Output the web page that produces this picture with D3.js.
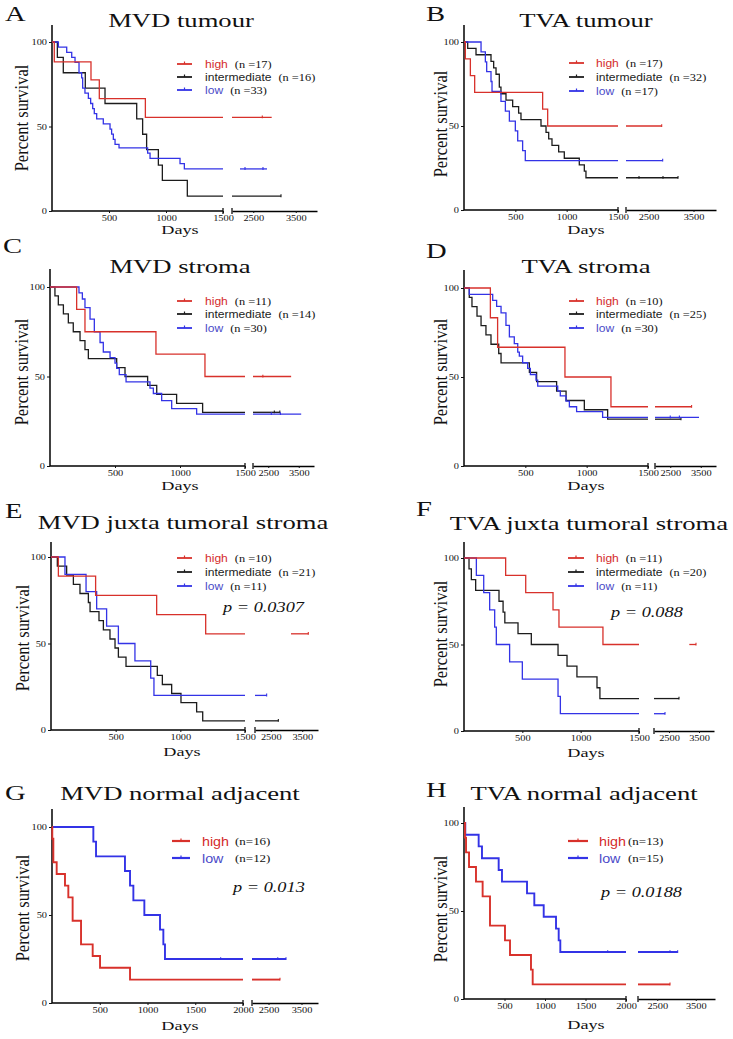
<!DOCTYPE html>
<html>
<head>
<meta charset="utf-8">
<script src="https://cdn.jsdelivr.net/npm/d3@7"></script>
<style>
  body { margin: 0; background: #fff; }
  svg { display: block; }
</style>
</head>
<body>
<div id="chart"></div>
<script>
// ---- survival data: [day, percent surviving after the drop] ----
// A  MVD tumour
const mvdTumourHigh = [[20, 88.2], [342, 77.6], [415, 66.5], [819, 55.4]];
const mvdTumourInter = [[47, 90.9], [99, 81.8], [292, 72.7], [465, 63.6], [743, 54.5], [795, 45.4], [830, 36.3], [933, 27.2], [968, 18.1], [1187, 8.8]];
const mvdTumourLow = [[56, 97], [129, 93.9], [173, 90.9], [202, 87.9], [237, 81.8], [260, 78.8], [269, 72.7], [289, 69.7], [319, 66.7], [339, 63.6], [357, 60.6], [371, 57.6], [392, 54.5], [450, 51.5], [509, 48.5], [523, 45.5], [538, 42.4], [553, 39.4], [588, 37.3], [839, 34.2], [860, 31.1], [1123, 28], [1161, 24.9]];
// B  TVA tumour
const tvaTumourHigh = [[13, 90], [62, 80], [104, 70], [766, 60], [815, 50]];
const tvaTumourInter = [[36, 96.2], [117, 92.4], [263, 88.5], [289, 84.6], [312, 80.8], [344, 73.1], [360, 69.2], [409, 65.4], [474, 61.5], [532, 57.7], [555, 53.8], [750, 50], [799, 46.2], [825, 42.3], [857, 38.5], [922, 34.6], [977, 30.8], [1123, 26.9], [1172, 23.1], [1188, 19.2]];
const tvaTumourLow = [[166, 94.1], [208, 88.2], [221, 82.4], [263, 76.5], [273, 70.6], [360, 64.7], [403, 58.8], [442, 52.9], [500, 47.1], [523, 41.2], [571, 35.3], [597, 29.4]];
// C  MVD stroma
const mvdStromaHigh = [[205, 87.5], [269, 75], [815, 62.5], [1192, 50]];
const mvdStromaInter = [[38, 95], [64, 90], [103, 85], [141, 80], [179, 75], [231, 70], [269, 65], [295, 60], [513, 55], [577, 50], [751, 45], [821, 40], [974, 35], [1174, 30]];
const mvdStromaLow = [[223, 96.7], [249, 93.3], [269, 88.5], [308, 82], [341, 75], [385, 69], [410, 63.7], [462, 60.6], [500, 57.5], [513, 54.5], [533, 51], [585, 47], [769, 43.5], [795, 40.5], [859, 36.5], [936, 32], [1128, 29]];
// D  TVA stroma
const tvaStromaHigh = [[215, 83.3], [274, 66.7], [823, 50], [1198, 33.3]];
const tvaStromaInter = [[43, 94.7], [65, 89.5], [106, 84.2], [139, 78.9], [179, 73.7], [220, 68.4], [283, 63.2], [302, 57.9], [533, 52.6], [592, 47.4], [755, 42.1], [832, 36.8], [981, 31.6], [1171, 26.3]];
const tvaStromaLow = [[43, 96.4], [234, 93], [266, 89.7], [302, 86], [342, 79], [370, 72.5], [410, 68.8], [438, 64], [451, 61.7], [478, 58], [519, 54.8], [541, 51.4], [587, 48.2], [601, 44.9], [764, 42.2], [785, 39.4], [832, 36.4], [859, 33.3], [918, 30.5], [1130, 27.3]];
// E  MVD juxta tumoral stroma
const mvdJuxtaHigh = [[57, 88.9], [345, 77.8], [817, 66.7], [1196, 55.6]];
const mvdJuxtaInter = [[49, 94.7], [121, 89.5], [173, 84.2], [224, 78.9], [289, 73.7], [302, 68.4], [371, 63.2], [405, 57.9], [456, 52.6], [495, 47.4], [521, 42.1], [580, 36.8], [822, 31.6], [861, 26.3], [933, 21.1], [1005, 15.8], [1126, 10.5], [1173, 5.3]];
const mvdJuxtaLow = [[108, 90], [271, 80], [353, 70], [430, 60], [521, 50], [649, 40], [771, 30], [796, 20]];
// F  TVA juxta tumoral stroma
const tvaJuxtaHigh = [[357, 90], [529, 80], [763, 70], [814, 60], [1191, 50]];
const tvaJuxtaInter = [[43, 93.75], [63, 87.5], [100, 81.25], [300, 75], [335, 68.75], [350, 62.5], [463, 56.25], [577, 50], [806, 43.75], [883, 37.5], [968, 31.25], [1140, 25], [1165, 18.75]];
const tvaJuxtaLow = [[106, 90], [169, 80], [220, 70], [263, 60], [277, 50], [391, 40], [500, 30], [806, 20], [826, 10]];
// G  MVD normal adjacent
const mvdNormalHigh = [[3, 93.3], [14, 80], [49, 73.3], [136, 66.7], [171, 60], [216, 46.7], [304, 33.3], [426, 26.7], [503, 20], [817, 13.3]];
const mvdNormalLow = [[433, 91.7], [461, 83.3], [764, 75], [817, 66.7], [852, 58.3], [967, 50], [1131, 41.7], [1166, 33.3], [1183, 25]];
// H  TVA normal adjacent
const tvaNormalHigh = [[12, 91.7], [25, 83.3], [62, 75], [148, 66.7], [230, 58.3], [321, 41.7], [506, 33.3], [568, 25], [827, 16.7], [848, 8.3]];
const tvaNormalLow = [[16, 93.3], [181, 86.7], [222, 80], [428, 73.3], [469, 66.7], [778, 60], [868, 53.3], [984, 46.7], [1136, 40], [1169, 33.3], [1189, 26.7]];

// right-hand (broken axis) part of each curve: [first day, last day]
const tails = {
  A: [[2000, 2934], [2000, 3153], [2188, 2823]],
  B: [[2000, 2793], [2000, 3156], [2000, 2815]],
  C: [[2000, 3250], [2000, 2880], [2000, 3580]],
  D: [[2000, 3200], [2000, 2852], [2000, 3443]],
  E: [[3143, 3692], [2000, 2741], [2000, 2370]],
  F: [[3177, 3400], [2000, 2833], [2000, 2367]],
  G: [[2000, 2848], [2000, 3030]],
  H: [[2000, 2831], [2000, 3030]]
};
// censored observations (tick marks)
const censored = {
  A: [[2713], [3153], [2306, 2729]],
  B: [[2793], [2289, 2822, 3156], [2815]],
  C: [[2323], [2700, 2880], [2600, 2900]],
  D: [[3200], [2852], [2500, 2800]],
  E: [[3692], [2741], [2370]],
  F: [[3400], [2833], [2367]],
  G: [[2848], [1766, 2780, 3030]],
  H: [[2831], [1774, 2831, 3030]]
};

const titles = ["MVD tumour", "TVA tumour", "MVD stroma", "TVA stroma", "MVD juxta tumoral stroma", "TVA juxta tumoral stroma", "MVD normal adjacent", "TVA normal adjacent"];
const letters = ["A", "B", "C", "D", "E", "F", "G", "H"];
const groupNames3 = ["high", "intermediate", "low"];
const groupNames2 = ["high", "low"];
const groupSizes = [[17, 16, 33], [17, 32, 17], [11, 14, 30], [10, 25, 30], [10, 21, 11], [11, 20, 11], [16, 12], [13, 15]];
const pValues = [null, null, null, null, "p = 0.0307", "p = 0.088", "p = 0.013", "p = 0.0188"];
const seriesByPanel = [
  [mvdTumourHigh, mvdTumourInter, mvdTumourLow],
  [tvaTumourHigh, tvaTumourInter, tvaTumourLow],
  [mvdStromaHigh, mvdStromaInter, mvdStromaLow],
  [tvaStromaHigh, tvaStromaInter, tvaStromaLow],
  [mvdJuxtaHigh, mvdJuxtaInter, mvdJuxtaLow],
  [tvaJuxtaHigh, tvaJuxtaInter, tvaJuxtaLow],
  [mvdNormalHigh, mvdNormalLow],
  [tvaNormalHigh, tvaNormalLow]
];

// ---- layout of each panel (pixels) ----
const layout = [
  {x0: 52, x1: 223, s2: [232, 317], yTop: 42, yBot: 211, top: 25, max1: 1500, title: [181, 27], letter: [5, 21], ylab: [28, 118], days: [180, 234], leg: {a: 177, b: 192, rows: [64, 77, 90], tx: 205}, p: null},
  {x0: 464, x1: 618, s2: [626, 716], yTop: 42, yBot: 210, top: 25, max1: 1500, title: [586, 27], letter: [426, 21], ylab: [447, 124], days: [586, 234], leg: {a: 569, b: 584, rows: [63, 77, 91], tx: 596}, p: null},
  {x0: 50, x1: 245, s2: [253, 314], yTop: 287, yBot: 466, top: 269, max1: 1500, title: [180, 273], letter: [3, 253], ylab: [28, 372], days: [180, 490], leg: {a: 177, b: 192, rows: [301, 314, 328], tx: 205}, p: null},
  {x0: 464, x1: 648, s2: [655, 716], yTop: 288, yBot: 466, top: 270, max1: 1500, title: [586, 273], letter: [426, 258], ylab: [447, 372], days: [586, 490], leg: {a: 569, b: 584, rows: [301, 314, 328], tx: 596}, p: null},
  {x0: 51, x1: 245, s2: [255, 318], yTop: 557, yBot: 730, top: 542, max1: 1500, title: [183, 529], letter: [5, 518], ylab: [29, 638], days: [182, 756], leg: {a: 177, b: 192, rows: [558, 572, 586], tx: 205}, p: [223, 612]},
  {x0: 464, x1: 639, s2: [654, 714], yTop: 558, yBot: 731, top: 542, max1: 1500, title: [589, 530], letter: [416, 516], ylab: [447, 634], days: [586, 757], leg: {a: 568, b: 584, rows: [558, 572, 586], tx: 596}, p: [611, 617]},
  {x0: 52, x1: 243, s2: [252, 318], yTop: 827, yBot: 1003, top: 809, max1: 2000, title: [180, 800], letter: [5, 800], ylab: [29, 908], days: [180, 1030], leg: {a: 172, b: 190, rows: [841, 858], tx: 202, nx: 235, big: true}, p: [233, 892]},
  {x0: 464, x1: 626, s2: [638, 715], yTop: 823, yBot: 999, top: 807, max1: 2000, title: [584, 800], letter: [426, 797], ylab: [447, 909], days: [586, 1029], leg: {a: 568, b: 588, rows: [841, 858], tx: 599, nx: 628, big: true}, p: [601, 897]}
];

const W = 733, H = 1039;
const SERIF = "'Liberation Serif', 'Times New Roman', serif";
const SANS = "'Liberation Sans', Arial, sans-serif";
const SX = 1.45;  // the figure is stretched sideways
const colors = {high: "#d8312b", intermediate: "#1c1c1c", low: "#3333e6"};
const textColors = {high: "#d42a2a", intermediate: "#1c1c1c", low: "#4a4ac8"};

const svg = d3.select("#chart").append("svg")
  .attr("width", W).attr("height", H);

function label(g, x, y, str, o = {}) {
  return g.append("text")
    .attr("transform", `translate(${x},${y}) scale(${o.sx || SX},1)` + (o.rotate ? " rotate(-90)" : ""))
    .attr("text-anchor", o.anchor || "start")
    .attr("font-family", o.family || SERIF)
    .attr("font-size", o.size || 12)
    .attr("font-style", o.italic ? "italic" : null)
    .attr("fill", o.fill || "#111")
    .text(str);
}

titles.forEach((title, i) => {
  const L = layout[i];
  const g = svg.append("g");
  const names = seriesByPanel[i].length === 3 ? groupNames3 : groupNames2;
  const big = !!L.leg.big;
  const lw = big ? 1.9 : 1.3;

  const x1 = d3.scaleLinear().domain([0, L.max1]).range([L.x0, L.x1]);
  const x2 = d3.scaleLinear().domain([2000, 4000]).range(L.s2);
  const y = d3.scaleLinear().domain([0, 100]).range([L.yBot, L.yTop]);

  // text
  label(g, L.letter[0], L.letter[1], letters[i], {size: 22, sx: 1.3});
  label(g, L.title[0], L.title[1], title, {size: 18, sx: 1.48, anchor: "middle"});
  label(g, L.ylab[0], L.ylab[1], "Percent survival", {size: 16.5, sx: 1.1, anchor: "middle", rotate: true});
  label(g, L.days[0], L.days[1], "Days", {size: 13, sx: 1.4, anchor: "middle"});

  // y axis
  const yAxis = g.append("g").attr("transform", `translate(${L.x0},0)`)
    .call(d3.axisLeft(y).tickValues([0, 50, 100]).tickSize(3).tickPadding(1));
  yAxis.select(".domain").remove();
  yAxis.append("line").attr("x1", 0).attr("x2", 0).attr("y1", L.top).attr("y2", L.yBot)
    .attr("stroke", "#111").attr("stroke-width", 1.6);

  // x axis, left part
  const fmt = d3.format("d");
  const xa1 = g.append("g").attr("transform", `translate(0,${L.yBot})`)
    .call(d3.axisBottom(x1).tickValues(d3.range(500, L.max1 + 1, 500)).tickFormat(fmt).tickSize(2).tickSizeOuter(0));
  xa1.select(".domain").attr("stroke-width", 1.6).attr("d", `M${L.x0},0H${L.x1}`);
  xa1.append("line").attr("x1", L.x1).attr("x2", L.x1).attr("y1", -3).attr("y2", 3)
    .attr("stroke", "#111").attr("stroke-width", 1.3);
  // x axis, right part
  const xa2 = g.append("g").attr("transform", `translate(0,${L.yBot})`)
    .call(d3.axisBottom(x2).tickValues([2500, 3500]).tickFormat(fmt).tickSize(2).tickSizeOuter(0));
  xa2.select(".domain").attr("stroke-width", 1.6);
  xa2.append("line").attr("x1", L.s2[0]).attr("x2", L.s2[0]).attr("y1", -3).attr("y2", 3)
    .attr("stroke", "#111").attr("stroke-width", 1.3);

  [yAxis, xa1, xa2].forEach(a => {
    a.selectAll(".tick line").attr("stroke", "#111");
    a.selectAll(".tick text")
      .attr("font-family", SERIF).attr("font-size", 8.3).attr("fill", "#111")
      .attr("transform", "scale(1.25,1)");
  });
  xa1.selectAll(".tick text").attr("y", 4).attr("dy", "0.71em");
  xa2.selectAll(".tick text").attr("y", 4).attr("dy", "0.71em");

  // survival curves (intermediate and low first so high sits on top)
  const order = names.length === 3 ? [1, 2, 0] : [1, 0];
  const stepLine = d3.line().x(d => x1(d[0])).y(d => y(d[1])).curve(d3.curveStepAfter);
  order.forEach(k => {
    const steps = seriesByPanel[i][k];
    const last = steps[steps.length - 1][1];
    const col = colors[names[k]];
    const pts = [[0, 100], ...steps, [L.max1, last]];
    g.append("path").attr("d", stepLine(pts))
      .attr("fill", "none").attr("stroke", col).attr("stroke-width", lw);
    const t = tails[letters[i]][k];
    g.append("line")
      .attr("x1", x2(t[0])).attr("x2", x2(t[1]))
      .attr("y1", y(last)).attr("y2", y(last))
      .attr("stroke", col).attr("stroke-width", lw);
    censored[letters[i]][k].forEach(c => {
      const cx = c <= L.max1 ? x1(c) : x2(c);
      g.append("line").attr("x1", cx).attr("x2", cx)
        .attr("y1", y(last) - 1.8).attr("y2", y(last) + 1)
        .attr("stroke", col).attr("stroke-width", 1.1);
    });
  });

  // legend
  names.forEach((nm, k) => {
    const ry = L.leg.rows[k];
    const col = colors[nm];
    g.append("line").attr("x1", L.leg.a).attr("x2", L.leg.b).attr("y1", ry).attr("y2", ry)
      .attr("stroke", col).attr("stroke-width", big ? 2.2 : 1.8);
    const mx = (L.leg.a + L.leg.b) / 2;
    g.append("line").attr("x1", mx).attr("x2", mx).attr("y1", ry - 2.5).attr("y2", ry)
      .attr("stroke", col).attr("stroke-width", 1.2);
    const t = label(g, L.leg.tx, ry + (big ? 4.5 : 3.8), nm,
      {family: SANS, size: big ? 13 : 11, sx: 1.1, fill: textColors[nm]});
    const w = t.node().getComputedTextLength() * 1.1;
    const n = groupSizes[i][k];
    const nx = L.leg.nx != null ? L.leg.nx : L.leg.tx + w + 7;
    label(g, nx, ry + (big ? 4 : 3.5), big ? `(n=${n})` : `(n =${n})`,
      {size: big ? 10 : 9.5, sx: 1.3});
  });

  if (pValues[i]) {
    label(g, L.p[0], L.p[1], pValues[i], {size: 15, sx: 1.22, italic: true});
  }
});
</script>
</body>
</html>
